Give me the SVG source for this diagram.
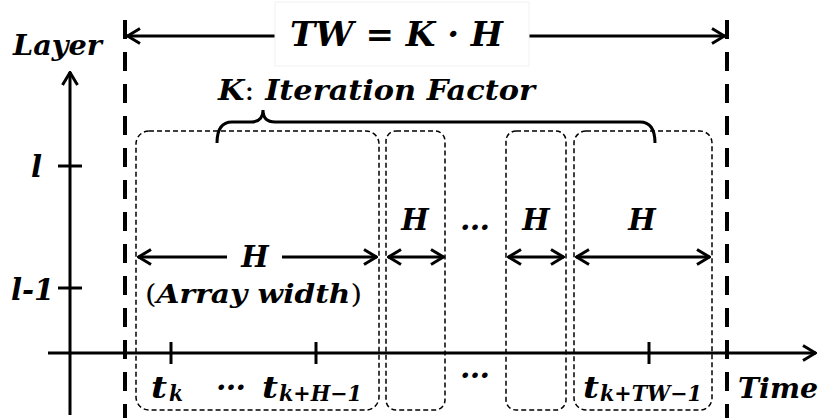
<svg xmlns="http://www.w3.org/2000/svg" width="824" height="420" viewBox="0 0 824 420">
<style>
  .t{font-family:"DejaVu Serif","Liberation Serif",serif;font-weight:bold;font-style:italic;fill:#000}
  .up{font-style:normal;font-weight:normal}
  .ax{stroke:#000;stroke-width:3;fill:none}
  .bnd{stroke:#000;stroke-width:4;fill:none;stroke-dasharray:19,13}
  .box{stroke:#000;stroke-width:1.5;fill:none;stroke-dasharray:5,3}
  .arr{stroke:#000;stroke-width:3;fill:none;marker-start:url(#chev);marker-end:url(#chev)}
</style>
<defs>
  <marker id="chev" viewBox="0 0 16 18" refX="15" refY="9" markerWidth="16" markerHeight="18" markerUnits="userSpaceOnUse" orient="auto-start-reverse">
    <path d="M2,1.5 L14.5,9 L2,16.5" fill="none" stroke="#000" stroke-width="3"/>
  </marker>
  <marker id="chev1" viewBox="0 0 16 18" refX="15" refY="9" markerWidth="16" markerHeight="18" markerUnits="userSpaceOnUse" orient="auto">
    <path d="M2,1.5 L14.5,9 L2,16.5" fill="none" stroke="#000" stroke-width="3"/>
  </marker>
</defs>
<rect width="824" height="420" fill="#fff"/>

<g id="axes">
  <line class="ax" x1="70" y1="415" x2="70" y2="72" marker-end="url(#chev1)"/>
  <line class="ax" x1="48" y1="353" x2="816" y2="353" marker-end="url(#chev1)"/>
  <line class="ax" x1="58" y1="166" x2="82" y2="166"/>
  <line class="ax" x1="58" y1="288" x2="82" y2="288"/>
  <line class="ax" x1="171" y1="342" x2="171" y2="364"/>
  <line class="ax" x1="316" y1="342" x2="316" y2="364"/>
  <line class="ax" x1="649" y1="342" x2="649" y2="364"/>
  <text class="t" x="13" y="55" font-size="27" textLength="89" lengthAdjust="spacingAndGlyphs">Layer</text>
  <text class="t" x="31" y="177" font-size="29">l</text>
  <text class="t" x="11" y="300" font-size="29">l-1</text>
  <text class="t" x="738" y="398" font-size="28" textLength="80" lengthAdjust="spacingAndGlyphs">Time</text>
</g>

<g id="window">
  <line class="bnd" x1="125" y1="20" x2="125" y2="418"/>
  <line class="bnd" x1="727" y1="20" x2="727" y2="418"/>
</g>

<g id="boxes">
  <rect id="box1" class="box" x="136" y="131" width="243" height="279" rx="13"/>
  <rect id="box2" class="box" x="386" y="131" width="59" height="279" rx="10"/>
  <rect id="box3" class="box" x="506" y="131" width="60" height="279" rx="10"/>
  <rect id="box4" class="box" x="574" y="131" width="138" height="279" rx="12"/>
</g>

<g id="connectors">
  <line class="arr" x1="127" y1="36" x2="725" y2="36"/>
  <line class="arr" x1="138" y1="257" x2="377" y2="257"/>
  <line class="arr" x1="388" y1="257" x2="444" y2="257"/>
  <line class="arr" x1="508" y1="257" x2="564" y2="257"/>
  <line class="arr" x1="576" y1="257" x2="710" y2="257"/>
  <path class="ax" d="M217,143 C217,130 221,122 232,122 L251,122 C259,122 263,118 263,110 C263,118 267,122 275,122 L640,122 C651,122 655,130 655,143"/>
</g>

<g id="tw-label">
  <rect x="275" y="2" width="254" height="64" fill="#fff" stroke="#f2f2f2"/>
  <text class="t" x="290" y="46" font-size="33" textLength="213" lengthAdjust="spacingAndGlyphs">TW = K · H</text>
</g>

<g id="k-label">
  <text class="t" x="218" y="100" font-size="28" textLength="317" lengthAdjust="spacingAndGlyphs">K<tspan class="up">:</tspan> Iteration Factor</text>
</g>

<g id="h-labels">
  <rect x="227" y="230" width="55" height="50" fill="#fff"/>
  <text class="t" x="255" y="267" font-size="29" text-anchor="middle">H</text>
  <text class="t" x="145" y="303" font-size="26" textLength="217" lengthAdjust="spacingAndGlyphs"><tspan class="up">(</tspan>Array width<tspan class="up">)</tspan></text>
  <text class="t" x="415" y="230" font-size="29" text-anchor="middle">H</text>
  <text class="t" x="475" y="230" font-size="30" text-anchor="middle">…</text>
  <text class="t" x="536" y="230" font-size="29" text-anchor="middle">H</text>
  <text class="t" x="642" y="230" font-size="29" text-anchor="middle">H</text>
</g>

<g id="time-labels">
  <text class="t" x="151" y="398" font-size="30" textLength="16" lengthAdjust="spacingAndGlyphs">t</text>
  <text class="t" x="169" y="401" font-size="22" textLength="14" lengthAdjust="spacingAndGlyphs">k</text>
  <text class="t" x="231" y="390" font-size="30" text-anchor="middle">…</text>
  <text class="t" x="262" y="398" font-size="30" textLength="16" lengthAdjust="spacingAndGlyphs">t</text>
  <text class="t" x="279" y="401" font-size="22" textLength="83" lengthAdjust="spacingAndGlyphs">k+H−1</text>
  <text class="t" x="475" y="378" font-size="30" text-anchor="middle">…</text>
  <text class="t" x="583" y="398" font-size="30" textLength="16" lengthAdjust="spacingAndGlyphs">t</text>
  <text class="t" x="600" y="401" font-size="22" textLength="102" lengthAdjust="spacingAndGlyphs">k+TW−1</text>
</g>
</svg>
